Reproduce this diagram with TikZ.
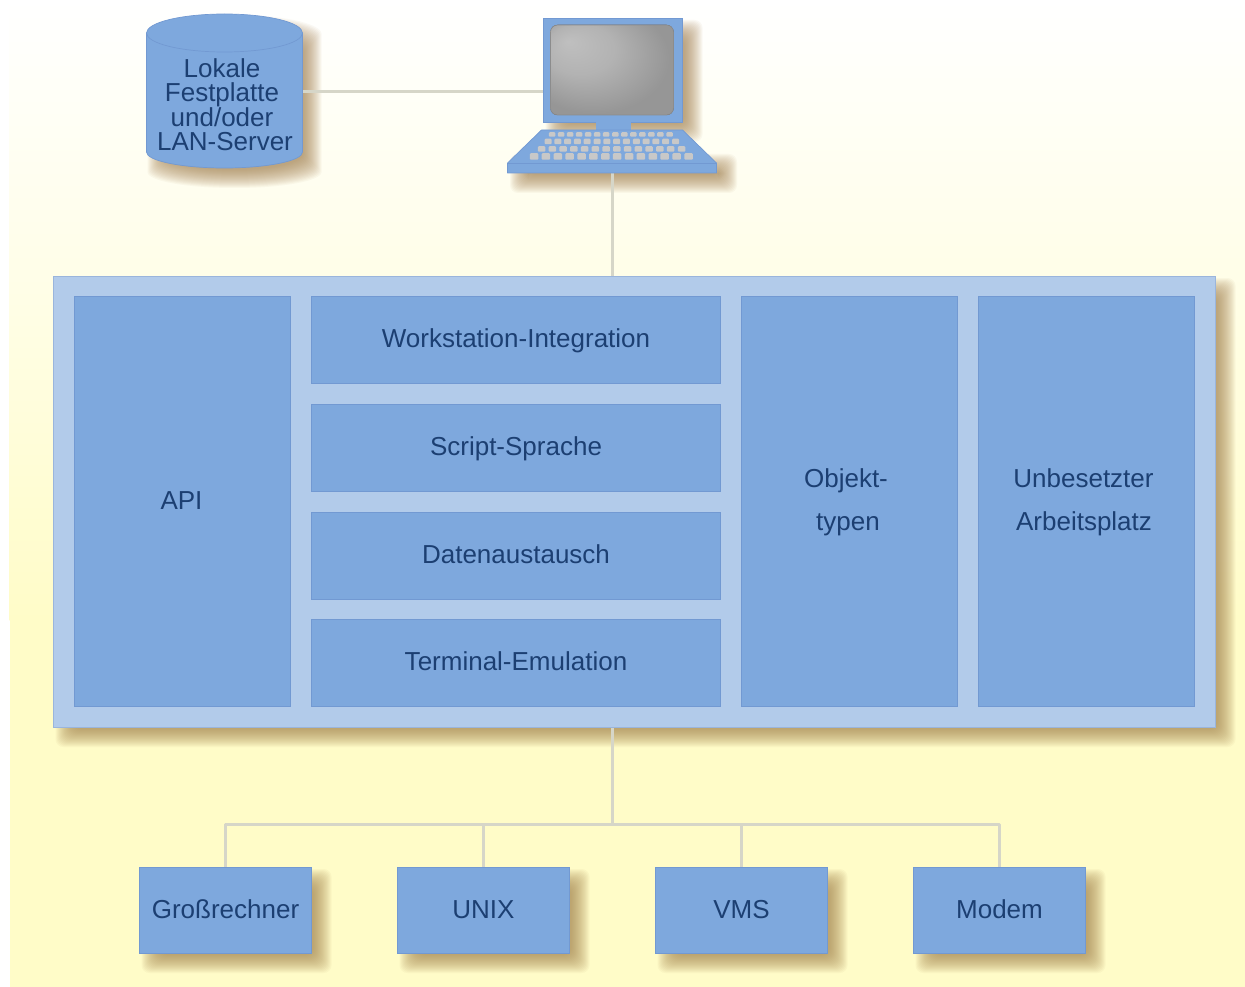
\documentclass[tikz,border=0pt]{standalone}
\usepackage{fontspec}
\setmainfont{Liberation Sans}
\usetikzlibrary{calc}
\definecolor{boxblue}{HTML}{7EA8DD}
\definecolor{panelblue}{HTML}{B2CBEA}
\definecolor{edgeblue}{HTML}{7299D2}
\definecolor{paneledge}{HTML}{9AB5DC}
\definecolor{wirec}{HTML}{D6D6C8}
\definecolor{inkc}{HTML}{1C3F72}
\definecolor{shadowc}{HTML}{A07A45}
\definecolor{creamA}{HTML}{FFFEE6}
\definecolor{creamB}{HTML}{FFFCC8}
\definecolor{keyc}{HTML}{C8C8C8}
\pgfdeclarelayer{bgl}
\pgfdeclarelayer{shad}
\pgfdeclarelayer{wire}
\pgfsetlayers{bgl,shad,wire,main}
\pgfdeclareradialshading{screenshade}{\pgfpoint{-18bp}{16bp}}{color(0bp)=(black!25);color(14bp)=(black!30);color(30bp)=(black!41);color(50bp)=(black!41)}
\tikzset{
  every node/.style={font=\fontsize{26}{30}\selectfont, text=inkc, inner sep=0pt, outer sep=0pt},
  boxn/.style={rectangle, fill=boxblue, draw=edgeblue, line width=0.8pt, align=center},
  smallbox/.style={boxn, minimum width=172pt, minimum height=86pt, text height=21pt, text depth=4pt},
  midbox/.style={boxn, minimum width=409pt, minimum height=87pt, text height=20pt, text depth=4pt},
  tallbox/.style={boxn, minimum width=216pt, minimum height=410pt},
  wireline/.style={draw=wirec, line width=3pt, line join=round},
  softc/.style={fill=shadowc, opacity=0.05, draw=none},
  lapfill/.style={fill=boxblue, draw=edgeblue, line width=0.7pt, line join=round},
}
% blurred drop shadow of a rectangular node
\newcommand{\softrect}[1]{%
  \begin{pgfonlayer}{shad}
  \foreach \i in {0,...,18}{
    \pgfmathsetmacro{\pa}{2+\i}\pgfmathsetmacro{\pb}{20-\i}
    \fill[softc,rounded corners=8pt] ([shift={(\pa,\pa)}]#1.north west) rectangle ([shift={(\pb,\pb)}]#1.south east);
  }
  \end{pgfonlayer}}
\begin{document}
\begin{tikzpicture}[x=1pt,y=-1pt]
\useasboundingbox (0.5,0) rectangle (1245.5,987);
\begin{pgfonlayer}{bgl}
  \fill[white] (0,0) rectangle (1246,987);
  \fill[bottom color=creamA, top color=white] (10,0) rectangle (1246,300);
  \fill[top color=creamA, bottom color=creamB] (10,299) rectangle (1246,620);
  \fill[creamB] (10,619) rectangle (1246,987);
\end{pgfonlayer}

% disk
\node (disk) at (225,91.5) [minimum width=156pt, minimum height=154pt] {};
\begin{pgfonlayer}{shad}
  \foreach \i in {0,...,18}{
    \pgfmathsetmacro{\rx}{87-\i}
    \pgfmathsetmacro{\lft}{235-\rx}
    \pgfmathsetmacro{\rgt}{235+\rx}
    \pgfmathsetmacro{\ya}{34+\i}
    \pgfmathsetmacro{\yb}{172-\i}
    \fill[softc] (\lft,\ya) arc[start angle=180,end angle=360,x radius=\rx,y radius=19] -- (\rgt,\yb) arc[start angle=0,end angle=180,x radius=\rx,y radius=16] -- cycle;
  }
\end{pgfonlayer}
\draw[lapfill] (147,33) arc[start angle=180,end angle=360,x radius=78,y radius=19] -- (303,152) arc[start angle=0,end angle=180,x radius=78,y radius=16] -- cycle;
\draw[edgeblue,line width=0.7pt] (147,33) arc[start angle=180,end angle=0,x radius=78,y radius=19];
\node (disktext) at (222.5,105) [align=center, font=\fontsize{26}{24}\selectfont] {Lokale\\Festplatte\\und/oder\\\hspace*{6pt}LAN-Server};

% laptop
\node (monitor) at (613.5,70) [rectangle, fill=boxblue, draw=edgeblue, line width=0.7pt, minimum width=139pt, minimum height=104pt] {};
\node (kbd) at (613,151.5) [minimum width=209pt, minimum height=43pt] {};
\begin{pgfonlayer}{shad}
  \foreach \i in {0,...,18}{
    \pgfmathsetmacro{\pa}{2+\i}\pgfmathsetmacro{\pb}{20-\i}
    \fill[softc,rounded corners=8pt] ([shift={(\pa,\pa)}]monitor.north west) rectangle ([shift={(\pb,\pb)}]monitor.south east);
    \pgfmathsetmacro{\pc}{\pa+22}
    \fill[softc,rounded corners=8pt] ([shift={(\pa,\pc)}]kbd.north west) rectangle ([shift={(\pb,\pb)}]kbd.south east);
  }
\end{pgfonlayer}
\fill[boxblue] (596,121) rectangle (631,131);
\draw[lapfill] (542,130) -- (683,130) -- (717,163) -- (717,173) -- (508,173) -- (508,163) -- cycle;
\draw[edgeblue,line width=0.7pt] (508,163) -- (717,163);
\fill[rounded corners=7pt, shading=screenshade, draw=black!45, line width=0.6pt] (551,25) rectangle (674,115);
\foreach \r/\xa/\xb/\n/\kw/\kh in {134.5/552.5/670/13/6.5/4.5, 141.5/548.5/676/13/7/5.5, 149/542/682/13/7.5/5.5, 156.5/534.5/689/13/8.5/6.5}{
  \pgfmathsetmacro{\st}{(\xb-\xa)/\n}
  \foreach \k in {0,...,\n}{
    \fill[keyc,rounded corners=1pt] ({\xa+\k*\st-\kw/2},{\r-\kh/2}) rectangle ++(\kw,\kh);
  }
}

% main panel
\node (panel) at (635,501.5) [rectangle, fill=panelblue, draw=paneledge, line width=0.8pt, minimum width=1162pt, minimum height=451pt] {};
\softrect{panel}
\node (api) at (183,501) [tallbox] {};
\node (apitext) at (182,500.5) {API};
\node (wsi) at (516.5,339.5) [midbox] {Workstation-Integration};
\node (script) at (516.5,447.5) [midbox] {Script-Sprache};
\node (daten) at (516.5,555.5) [midbox] {Datenaustausch};
\node (term) at (516.5,662.5) [midbox] {Terminal-Emulation};
\node (objekt) at (850,501) [tallbox] {};
\node (objtext) at (846.5,502.5) [align=center, font=\fontsize{26}{43}\selectfont] {Objekt-\\\hspace*{4pt}typen};
\node (frei) at (1087,501) [tallbox] {};
\node (freitext) at (1084,502.5) [align=center, font=\fontsize{26}{43}\selectfont] {Unbesetzter\\\hspace*{1pt}Arbeitsplatz};

% bottom row
\node (host) at (226,910) [smallbox] {Großrechner};
\node (unix) at (484,910) [smallbox] {UNIX};
\node (vms) at (742,910) [smallbox] {VMS};
\node (modem) at (1000,910) [smallbox] {Modem};
\softrect{host}\softrect{unix}\softrect{vms}\softrect{modem}

\coordinate (junction) at (613,824);
\begin{pgfonlayer}{wire}
  \draw[wireline] (disk.east) -- (monitor.west |- disk.east);
  \draw[wireline] (kbd.south) -- (kbd.south |- panel.north);
  \draw[wireline] (kbd.south |- panel.south) -- (junction);
  \draw[wireline] (host.north) -- (host.north |- junction) -- (modem.north |- junction) -- (modem.north);
  \draw[wireline] (unix.north) -- (unix.north |- junction);
  \draw[wireline] (vms.north) -- (vms.north |- junction);
\end{pgfonlayer}
\end{tikzpicture}
\end{document}
